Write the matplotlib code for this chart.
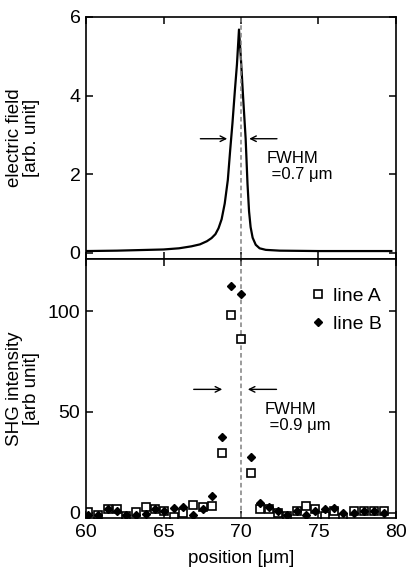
import matplotlib
matplotlib.use("Agg")
import matplotlib.pyplot as plt

plt.rcParams['font.family'] = ['Liberation Sans', 'DejaVu Sans']

# electric field profile (top panel)
field_x = [60.0, 62.0, 64.0, 65.0, 66.0, 66.8, 67.35, 67.8, 68.1, 68.35, 68.55,
           68.75, 68.95, 69.15, 69.3, 69.45, 69.6, 69.74, 69.87, 70.0, 70.13,
           70.3, 70.42, 70.52, 70.62, 70.75, 70.95, 71.2, 71.6, 72.5, 75.0, 79.7]
field_y = [0.04, 0.05, 0.07, 0.08, 0.11, 0.16, 0.21, 0.29, 0.37, 0.47, 0.62,
           0.85, 1.25, 1.85, 2.6, 3.3, 4.1, 4.8, 5.68, 4.9, 4.0,
           2.9, 1.75, 1.05, 0.65, 0.38, 0.2, 0.11, 0.07, 0.05, 0.04, 0.04]

# SHG intensity (bottom panel)
pos_a = [60.1, 60.75, 61.4, 61.98, 62.6, 63.2, 63.85, 64.45, 65.05, 65.7,
         66.28, 66.92, 67.53, 68.15, 68.75, 69.35, 69.98, 70.65, 71.2, 71.8,
         72.4, 73.0, 73.6, 74.2, 74.8, 75.4, 76.0, 76.6, 77.3, 77.95, 78.6, 79.2]
line_a = [0.3, -1, 2, 2, -1.5, 0.5, 3, 2, 1, -2,
          0, 4, 3, 3.5, 29.7, 98, 86, 19.6, 2, 2,
          0, -1.5, 1, 3.5, 2, -1.5, 1, -2.5, 1, 1, 1, 1]
pos_b = pos_a
line_b = [-1, -1, 2, 1, -1, -1, -0.5, 2, 1, 2.5,
          3, -1, 2, 8.6, 37.5, 112.4, 108.3, 27.6, 5, 3,
          1, -1, 1, -1, 1, 2, 2.5, 0, 0, 1, 1, 0]

fig = plt.figure(figsize=(4.10, 5.76), dpi=100)
ax1 = fig.add_axes([0.2098, 0.5512, 0.756, 0.4193])
ax2 = fig.add_axes([0.2098, 0.1007, 0.756, 0.4505])

def style(ax):
    ax.tick_params(direction='in', top=True, right=True, length=5, width=1.1,
                   labelsize=14, pad=4)
    for s in ax.spines.values():
        s.set_linewidth(1.2)

# top panel
ax1.plot(field_x, field_y, color='black', lw=1.6)
ax1.axvline(70, color='gray', ls=(0, (3, 2)), lw=1.1)
ax1.set_xlim(60, 80)
ax1.set_ylim(-0.15, 6)
ax1.set_yticks([0, 2, 4, 6])
ax1.set_xticks([60, 65, 70, 75, 80])
ax1.tick_params(labelbottom=False)
style(ax1)
ax1.set_ylabel("electric field\n[arb. unit]", fontsize=13.5, linespacing=1.0)
ax1.yaxis.set_label_coords(-0.15, 0.5)
ax1.annotate('', xy=(69.29, 2.9), xytext=(67.2, 2.9),
             arrowprops=dict(arrowstyle='->', lw=1.0, color='black'))
ax1.annotate('', xy=(70.35, 2.9), xytext=(72.5, 2.9),
             arrowprops=dict(arrowstyle='->', lw=1.0, color='black'))
ax1.text(71.68, 2.6, "FWHM\n =0.7 \u03bcm", fontsize=12, va='top', ha='left',
         linespacing=1.1)

# bottom panel
ax2.axvline(70, color='gray', ls=(0, (3, 2)), lw=1.1)
ax2.plot(pos_a, line_a, ls='none', marker='s', ms=5.5, mfc='white',
         mec='black', mew=1.2, label='line A')
ax2.plot(pos_b, line_b, ls='none', marker='D', ms=4.2, mfc='black',
         mec='black', label='line B')
ax2.set_xlim(60, 80)
ax2.set_ylim(-2.5, 126)
ax2.set_yticks([0, 50, 100])
ax2.set_xticks([60, 65, 70, 75, 80])
style(ax2)
ax2.set_ylabel("SHG intensity\n[arb unit]", fontsize=13.5, linespacing=1.0)
ax2.yaxis.set_label_coords(-0.15, 0.5)
ax2.set_xlabel("position [\u03bcm]", fontsize=13.5, labelpad=7)
ax2.annotate('', xy=(68.97, 61.2), xytext=(66.77, 61.2),
             arrowprops=dict(arrowstyle='->', lw=1.0, color='black'))
ax2.annotate('', xy=(70.26, 61.2), xytext=(72.47, 61.2),
             arrowprops=dict(arrowstyle='->', lw=1.0, color='black'))
ax2.text(71.55, 55, "FWHM\n =0.9 \u03bcm", fontsize=12, va='top', ha='left',
         linespacing=1.1)
ax2.legend(loc='upper right', bbox_to_anchor=(1.0, 0.94), frameon=False,
           fontsize=14, handletextpad=0.3, handlelength=1.0,
           borderaxespad=0.3, labelspacing=0.5)

fig.savefig("out.png", dpi=100)
